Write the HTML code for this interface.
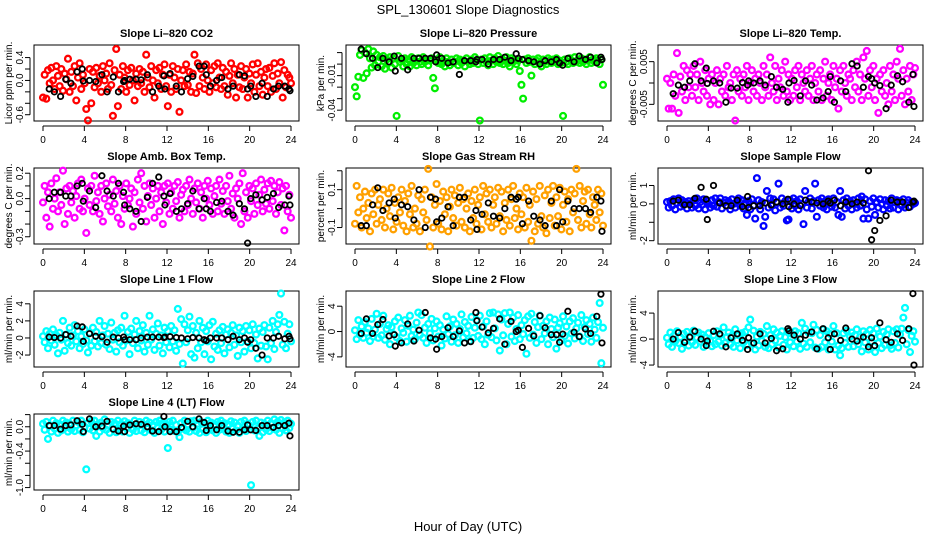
<!DOCTYPE html>
<html><head><meta charset="utf-8"><style>
html,body{margin:0;padding:0;background:#fff;}
svg{display:block;font-family:"Liberation Sans",Arial,sans-serif;}
</style></head><body>
<svg id="chart" width="936" height="540" viewBox="0 0 936 540" xmlns="http://www.w3.org/2000/svg">
<rect x="0" y="0" width="936" height="540" fill="#fff"/>
<text x="468" y="14" font-size="13" text-anchor="middle">SPL_130601  Slope Diagnostics</text>
<text x="468" y="531" font-size="13" text-anchor="middle">Hour of Day (UTC)</text>
</svg>
<script>
const blackHours=[0.6,1.1,1.7,2.2,2.7,3.3,3.8,3.9,4.5,5.1,5.7,6.2,6.8,7.3,7.8,7.9,8.4,9.0,9.5,10.1,10.6,11.2,11.7,11.8,12.3,12.9,13.4,14.0,14.5,15.1,15.6,15.8,16.2,16.8,17.3,17.9,18.4,19.0,19.5,19.8,20.1,20.6,21.2,21.7,22.3,22.8,23.4,23.8,23.9];
const xTicks=[0,4,8,12,16,20,24];

const co2Vals=[-.3,.1,-.32,.18,-.05,.22,.0,-.15,.25,.08,-.1,.2,-.18,.12,.02,.38,-.2,.15,-.1,.25,-.35,.05,.3,-.15,.1,-.05,-.5,-.7,.2,-.4,.15,-.12,.22,-.05,.08,-.2,.25,.0,.12,-.15,.3,-.08,-.62,.18,.55,-.45,.1,-.15,.25,.05,-.2,.18,-.08,.22,.0,-.35,.12,-.1,.2,-.05,.15,-.2,.45,.05,-.12,.25,.0,-.3,.18,-.05,.22,-.15,.1,.28,-.1,-.45,.1,-.2,.25,.05,-.15,.2,-.55,.0,.18,-.1,.28,-.08,.15,-.2,.12,.45,-.22,.3,-.1,.2,.05,-.15,.28,.0,-.2,.18,-.05,.25,-.12,.3,.05,-.15,.22,-.1,.15,-.25,.08,.3,-.05,.2,-.3,.1,-.12,.25,-.15,.05,.2,-.3,.12,-.05,.28,-.2,.1,.3,-.1,.15,-.25,.05,.2,-.1,.22,-.2,.08,.3,-.15,.12,-.05,.32,-.3,.18,-.12,.1,.05,-.05];
const co2Black=[-.15,-.2,-.28,.02,-.05,.15,.2,-.01,.0,-.02,.1,-.2,.06,-.2,-.02,.0,.02,.02,.01,.1,-.2,-.1,.08,-.15,.12,-.1,-.2,.03,.07,.25,.25,.1,-.1,.0,.05,-.15,-.1,.1,.08,-.15,-.1,-.28,-.05,-.28,-.15,-.1,-.1,-.15,-.18];

const presVals=[-.02,-.028,-.011,.008,.012,-.012,.01,-.008,.013,.005,-.003,.011,-.001,.008,.002,.006,-.002,.007,-.004,.004,.001,.006,-.003,.005,.0,-.045,.007,.002,.004,-.002,.005,.0,.004,-.002,.006,.001,.003,-.001,.005,.002,.0,.006,.002,.004,-.001,.003,.005,-.012,-.021,.004,.001,.006,.0,.003,-.002,.005,.002,-.001,.004,.001,.002,.005,-.001,.004,.001,.003,-.002,.005,.002,.0,.004,.001,.006,.003,.0,-.049,.004,.001,.005,.002,-.001,.006,.003,.0,.005,.002,.007,.001,.004,.0,.003,.006,.001,-.002,.005,.002,.004,.0,.003,-.006,-.018,-.03,.004,.001,.005,.002,-.01,.004,.0,.003,.005,.001,-.002,.004,.002,.0,.005,.003,.001,.004,.002,.005,.0,.003,.001,-.045,.004,.002,.0,.005,.003,.001,.006,.002,.004,.001,.005,.002,.004,.0,.003,.006,.001,.004,.002,.005,.003,.0,.004,-.018];
const presBlack=[.013,.009,.005,-.003,.005,.002,.007,-.006,.005,-.005,.005,.005,.005,.005,.002,.008,.005,.001,.002,-.009,.003,.003,.002,.004,.004,.0,.004,.004,.006,.003,.009,.005,.004,.003,.002,.0,.003,.002,.004,.001,-.001,.005,.002,.007,.004,.006,.001,.006,.004];

const tempVals=[.001,-.006,.0,-.006,.002,-.003,.007,-.007,.0015,-.002,.004,-.004,.003,-.001,.002,-.003,.004,-.001,.002,-.004,.005,.0,-.002,.003,-.003,.001,-.005,.002,-.004,.0,.003,-.005,.001,-.002,.002,-.003,.004,-.001,.0,-.004,.002,-.0088,.003,-.002,.001,-.003,.002,-.001,.004,-.004,.0,.003,-.002,.001,-.003,.002,.0,-.004,.004,-.001,.002,-.003,.006,.0,-.002,.004,-.004,.001,-.001,.003,-.003,.005,-.002,.002,-.004,.001,-.003,.003,-.001,.004,-.004,.002,.0,-.002,.003,-.003,.001,.004,-.004,.0,.002,-.002,.003,-.004,.001,.005,-.003,.0,.002,-.004,.004,-.001,.001,-.006,.003,-.002,.004,.0,-.003,.002,.001,-.004,.003,-.001,.005,-.002,.002,-.004,.006,.001,.0075,-.003,.003,-.001,.004,-.004,.001,-.007,.002,-.002,.003,-.003,.0,-.005,.004,-.002,.002,-.004,.005,.001,.008,-.003,.003,-.005,.001,-.002,.004,-.004,.002,.0035];
const tempBlack=[-.0025,-.0005,-.001,.0005,.0045,.0005,.0035,-.0001,.0005,.0,-.0045,-.0012,-.0012,.0001,-.0005,.0005,.0,.0005,-.0005,.0015,-.001,-.0015,-.0045,.0,.0006,-.003,.0005,-.0005,-.004,-.0035,-.002,.0015,-.0045,.0005,-.002,.0045,.004,-.001,.0015,.001,.0,-.0006,-.006,-.0005,.0017,.0003,-.0045,.002,-.0055];

const ambVals=[-.03,.1,-.15,.05,-.22,.12,-.08,.0,.16,-.1,.05,-.05,.22,-.2,.08,-.12,.1,-.03,.06,-.15,.02,.12,-.08,.15,-.1,.0,-.27,.08,-.05,.1,-.1,.18,-.02,.05,-.12,.1,-.18,.0,.12,-.06,.03,-.1,.15,-.04,.06,-.15,.1,-.2,.02,-.08,.12,-.05,.0,.08,-.22,.05,-.12,.15,-.03,.2,-.08,.1,-.18,.02,.12,-.05,.08,-.15,.0,.1,-.1,.05,-.2,.1,-.03,.12,-.12,.05,-.08,.1,-.02,.13,-.15,.03,.07,-.1,.1,-.05,.15,.0,-.12,.08,-.03,.12,-.08,.05,-.15,.1,.0,.14,-.05,.08,-.12,.02,.1,-.1,.15,-.04,.06,-.12,.1,-.02,.18,-.08,.04,-.15,.08,.0,.12,-.2,.2,-.1,.05,-.15,.1,-.02,.08,-.12,.12,-.05,.03,.15,-.1,.07,-.04,.12,-.08,.14,-.02,.1,-.12,.05,.13,-.05,.08,-.25,.1,-.1,.03,-.15];
const ambBlack=[.0,.05,.05,.02,.02,.1,.12,-.02,.06,-.07,.18,.06,.02,.12,.05,-.05,-.08,-.1,-.18,.01,.12,.17,.02,-.05,.04,-.1,-.08,-.04,.06,-.08,.0,-.08,-.1,-.03,-.02,-.1,-.13,-.04,-.08,-.35,.0,.03,-.01,.01,.04,-.07,-.05,.02,-.05];

const rhVals=[-.08,.12,-.02,.06,-.1,.0,.09,-.05,.03,-.12,.08,-.03,.1,-.08,.02,.05,-.06,.1,-.1,.0,.08,-.04,.11,-.11,.03,-.07,.06,-.02,.1,-.09,.04,-.12,.08,-.03,.12,-.1,.0,-.08,.07,-.12,.05,-.02,.1,-.06,.21,-.2,.06,-.1,.02,.13,-.08,.04,-.11,.09,-.03,.06,-.12,.01,.1,-.05,.07,-.09,.03,.11,-.07,.05,-.1,.0,.08,-.12,.04,-.05,.1,-.08,.02,.06,-.11,.12,-.03,.08,-.07,.1,-.1,.02,.06,-.08,.11,-.04,.09,-.12,.03,-.06,.1,-.09,.05,.12,-.05,.0,-.11,.08,-.03,.06,-.1,.11,-.07,.02,-.17,.09,-.12,.05,-.08,.12,-.04,-.1,.07,-.13,.1,-.05,.03,.12,-.09,.06,-.04,.11,-.11,.02,.09,-.07,.05,-.12,.1,-.02,.08,.21,-.06,.12,-.1,.04,.09,-.08,.1,-.03,-.1,.06,.02,-.06,.1,-.02,.08,-.09];
const rhBlack=[-.09,-.09,.02,.11,-.01,.03,.05,-.05,.02,.01,-.06,.1,-.1,.06,.05,-.07,-.05,.01,-.09,.06,.06,-.06,-.01,-.11,-.03,.03,-.04,-.05,.0,.06,.05,.06,-.08,.04,-.04,-.06,-.09,.04,-.09,.1,-.07,.04,.0,.0,.0,-.02,.06,.04,-.12];

const flowVals=[.1,-.2,.15,-.1,.25,-.3,.05,.3,-.15,.2,-.05,.1,-.25,.15,.0,-.2,.2,-.1,.3,-.25,.1,-.05,.25,-.3,.15,.0,-.2,.2,-.1,.3,-.15,.1,.3,-.25,.05,.2,-.1,.15,-.3,.25,.0,-.2,.1,.3,-.1,.2,-.25,.05,-.6,.15,-.3,.25,-.1,-.8,1.4,.2,-.3,.1,-1.2,-.7,.7,-.2,.3,-.1,.25,-.35,.1,1.1,-.2,.3,-.1,.15,-.9,-.85,.2,-.25,.3,-.1,.15,-.3,.25,.0,-1.1,.7,-.2,.1,.3,-.25,.15,1.1,-.7,.2,-.1,.3,-.2,.15,-.3,.25,.05,-.15,.3,-.2,.1,-.6,.7,-.7,.2,-.25,.3,-.1,.15,-.3,.2,.0,-.2,.3,-.1,.4,-.8,.25,-.3,-.8,.15,-.15,.3,-.6,.1,-.2,.25,.0,-.3,.2,-.1,.15,-.25,.3,-.2,.1,.2,-.3,.15,-.1,.25,-.2,.05,.2,-.15,.1,.0,.05];
const flowBlack=[.15,.2,-.05,-.05,.3,.9,.25,-.85,1.0,.05,-.1,-.1,.2,-.15,.4,-.2,-.1,-.1,.05,-.05,.1,.0,.25,-.15,.0,-.1,.2,.1,.05,.0,.15,.05,.2,-.1,.1,.0,.1,.05,1.8,-1.95,-1.45,-.9,-.65,.2,.1,.1,-.2,.1,.15];

const l1Vals=[.2,-.5,.8,-1.2,.5,-.3,1,-.8,.3,-1.8,.6,-.2,2,-1.5,.4,-.6,1.2,-.9,.3,1.5,-.4,.8,-1.2,.2,-.7,1,-.3,-1.7,.6,-.9,1.2,-.4,.7,-1,2,-.6,.3,1.4,-.8,.5,-1.3,1.8,-.2,.6,-1.6,.9,-.5,1.2,-.9,2.6,-.3,.7,-1.9,1.1,-.6,.4,2,-1.2,.8,-.3,1.5,-1.6,.6,-.8,2.6,-.2,1,-1.4,.5,1.7,-.9,.3,-1.8,1.2,-.5,.8,-1.1,1.4,-.4,.9,-1.5,3.4,-.7,2.2,-3,1.6,-.5,.9,2.5,-1.9,1.4,-2.3,.6,-1.2,2,-.5,1.2,-1.9,.8,-.4,1.5,-2.5,1.9,-1,.5,-1.4,.9,-.6,1.3,-1.8,.4,1,-1.1,.6,1.5,-.8,.3,-2.1,1.2,-.5,.8,-1.6,1.4,-.4,.9,-1.2,1.6,-.6,.4,-2.4,1.1,-.9,.7,1.5,-1,-2.5,1.2,-.6,2,-1.3,.7,1.6,2.7,5.2,-.8,1.9,-1.2,.5,1.6,-.4];
const l1Black=[.1,.05,.0,.4,.2,1.4,1.3,-.4,.5,.2,.15,-.5,.1,.0,.1,-.2,-.2,-.2,.0,.1,.1,.1,.05,.1,.15,.05,.0,-.1,.05,.0,-.2,-.3,.0,.0,.0,-.2,.2,-.2,.0,-.5,-.2,-1.2,-2,.0,.0,.2,-.1,.2,-.1];

const l2Vals=[.2,-1.2,1.8,-.5,.8,-1,1.5,-.2,.5,-1.5,2,-.8,.3,2.8,-1,1.2,-.6,2.5,-1.3,.4,1,-2,.7,-.4,1.6,-.9,2.2,-1.5,.5,-.2,1.8,-1.6,.9,2.5,-.7,.3,-1.2,1.4,3,-.5,2.6,-1,.6,-1.8,1.2,-.3,2,-1.4,.5,1.6,-.8,1,-2.2,.3,-1.1,2.4,-.4,.8,-1.6,1.9,-.6,1.2,-1.8,.4,2.7,-.9,1.5,-.3,.9,-1.5,2.3,-1,.6,1.8,-.7,2.5,-1.2,.8,-2,1.6,-.5,2.9,-.9,3,.5,-1.4,2.7,-3,1.9,-.6,2.9,-2,1.2,3,-.8,2.2,-1.5,.4,2.6,-1.2,1,-.4,1.8,-3.5,2.4,-1,2.8,-.5,1.5,-1.8,.7,2.5,-1.2,.9,-.3,1.6,-2,2.2,.4,-.9,1.9,-2.7,.6,1.3,-1.4,2.4,-.7,.8,-1.9,1.6,-.3,2.1,-1.1,.5,1.4,-.8,2.6,-1.5,.7,1.8,-.4,1.2,-1.6,2.2,.3,-1,1.5,4.5,-5,.6];
const l2Black=[-.3,2,-.3,1.1,1.9,-.7,-.5,-2.3,-1.8,1.2,-1.5,.2,3,-1,-1.2,-2.8,-.8,.6,-.8,.1,-1.8,-1.6,3,1.7,.7,-.2,.5,2,-2,1.6,.0,.2,-2.5,.5,-.7,2.5,.6,-.5,-.5,-1.7,-.4,3.2,-.1,-.8,.4,-.3,2.4,5.9,-1.8];

const l3Vals=[.2,-.8,1,-1.2,.5,-.3,1.2,-.6,.3,-1.5,.8,-.2,1.1,-1,.4,-.5,1.3,-.9,.2,1,-.4,.7,-1.2,.3,-.7,.9,-.3,-1.1,.6,-.8,1.2,-.4,.6,-1,1.8,-.6,.3,1,-.8,.5,-1.2,1.5,-.2,.6,-1.4,.9,-.5,1.1,-.9,1.8,3,-.7,1.3,-1.6,.4,-1,1.1,-.3,.8,-1.2,2,-1.4,.6,-.8,1.5,-.2,1,-1.3,.5,1.2,-.9,.3,-1.6,1,-.5,.8,-1.1,1.2,-.4,.9,-1.5,2.5,-.7,1.6,-1.2,1,-.5,.9,2.2,-1.3,1.4,-1.5,.6,-1.2,1.5,-.5,1.2,-1.6,.8,-.4,2,-1.6,.9,-1,-2.5,-1.4,.9,-.6,1.3,-1.2,.4,1,-1.1,.6,1.5,-.8,.3,-1.9,1.2,-.5,.8,-1.6,1.4,-.4,.9,-2,1.6,-.6,.4,-1.4,1.1,-.9,.7,1.5,-1,-1.5,1.2,-.6,1.5,-1.3,.7,1.6,3.3,4.8,-.8,1.4,-2,.5,1.2,-.4];
const l3Black=[.0,1,-.5,.3,1.2,.0,-1,-.3,1.2,.8,-1.2,.2,.8,-.2,-1.6,.2,-.6,.8,-.6,.1,-1.8,-1.5,1.6,1.3,.6,.0,.6,1.1,-1.5,1.6,.2,-1.6,.8,-.2,1.7,.0,-.3,.3,-1.2,.2,-1,2.5,-.1,-.5,.8,-.2,1.6,7,-4];

const l4Vals=[.05,-.05,.08,-.2,.02,-.08,.1,-.03,.06,-.1,.04,-.06,.1,-.02,.07,-.08,.05,-.04,.1,-.07,.02,.08,-.05,.1,-.09,.0,-.7,.06,-.03,.09,-.06,.1,-.15,.04,-.08,.07,-.02,.12,-.05,.03,-.1,.08,-.03,.06,-.09,.1,-.04,.05,-.08,.09,-.02,.06,-.1,.04,-.05,.1,-.07,.02,.08,-.06,.05,-.09,.1,-.03,.07,-.06,.03,-.1,.08,-.02,.1,-.05,.06,-.08,.04,-.35,.08,-.05,.1,-.07,.03,-.09,-.17,.06,-.03,.1,-.06,.04,-.08,.09,-.02,.1,-.07,.05,-.1,.08,-.04,.06,-.09,.1,-.03,.07,-.06,.04,-.1,.08,-.05,.1,-.02,.06,-.08,.04,-.1,.09,-.03,.07,-.06,.02,-.1,.08,-.04,.1,-.07,.05,.02,-.96,.08,-.06,.1,-.03,-.15,.07,-.09,.05,-.04,.1,-.07,.06,-.02,.12,-.05,.08,-.1,.11,-.03,.07,-.06,.1,-.02,.05];
const l4Black=[.02,.02,-.04,.02,.03,.1,.04,-.08,.13,.0,.01,.09,-.04,-.07,.01,-.08,.03,.05,.04,.0,-.07,-.08,.17,.0,-.08,-.08,-.01,.09,.0,.13,.07,-.06,.02,-.05,.02,-.07,-.09,-.09,-.05,.03,-.05,-.06,.02,.02,-.01,.02,.02,.06,-.15];

const panels=[
 {name:'co2',title:'Slope Li\u2013820 CO2',ylab:'Licor ppm per min.',col:0,row:0,dom:[-0.71,0.62],ticks:[-0.6,-0.4,-0.2,0,0.2,0.4],labels:[0.4,0,-0.6],lf:1,color:'#ff0000',vals:co2Vals,blk:co2Black},
 {name:'pressure',title:'Slope Li\u2013820 Pressure',ylab:'kPa per min.',col:1,row:0,dom:[-0.0494,0.0166],ticks:[-0.04,-0.03,-0.02,-0.01,0,0.01],labels:[-0.01,-0.04],lf:2,color:'#00ee00',vals:presVals,blk:presBlack},
 {name:'temp',title:'Slope Li\u2013820 Temp.',ylab:'degrees C per min.',col:2,row:0,dom:[-0.0089,0.0089],ticks:[-0.005,0,0.005],labels:[0.005,-0.005],lf:3,color:'#ff00ff',vals:tempVals,blk:tempBlack},
 {name:'amb-box-temp',title:'Slope Amb. Box Temp.',ylab:'degrees C per min.',col:0,row:1,dom:[-0.357,0.241],ticks:[-0.3,-0.2,-0.1,0,0.1,0.2],labels:[0.2,0,-0.3],lf:1,color:'#ff00ff',vals:ambVals,blk:ambBlack},
 {name:'gas-stream-rh',title:'Slope Gas Stream RH',ylab:'percent per min.',col:1,row:1,dom:[-0.187,0.2146],ticks:[-0.1,0,0.1,0.2],labels:[0.1,-0.1],lf:1,color:'#ffa000',vals:rhVals,blk:rhBlack},
 {name:'sample-flow',title:'Slope Sample Flow',ylab:'ml/min per min.',col:2,row:1,dom:[-2.18,1.95],ticks:[-2,-1,0,1],labels:[1,0,-2],lf:0,color:'#0000ff',vals:flowVals,blk:flowBlack},
 {name:'line1-flow',title:'Slope Line 1 Flow',ylab:'ml/min per min.',col:0,row:2,dom:[-3.4,5.5],ticks:[-2,0,2,4],labels:[4,2,0,-2],lf:0,color:'#00ffff',vals:l1Vals,blk:l1Black},
 {name:'line2-flow',title:'Slope Line 2 Flow',ylab:'ml/min per min.',col:1,row:2,dom:[-5.6,6.4],ticks:[-4,0,4],labels:[4,0,-4],lf:0,color:'#00ffff',vals:l2Vals,blk:l2Black},
 {name:'line3-flow',title:'Slope Line 3 Flow',ylab:'ml/min per min.',col:2,row:2,dom:[-4.3,7.4],ticks:[-4,0,4],labels:[4,0,-4],lf:0,color:'#00ffff',vals:l3Vals,blk:l3Black},
 {name:'line4-flow',title:'Slope Line 4 (LT) Flow',ylab:'ml/min per min.',col:0,row:3,dom:[-1.04,0.21],ticks:[-1,-0.8,-0.6,-0.4,-0.2,0,0.2],labels:[0,-0.4,-1],lf:1,color:'#00ffff',vals:l4Vals,blk:l4Black}
];
const colLeft=[34,346,658], rowTop=[45,168,291,414], W=265, H=76;
const svg=document.getElementById('chart');
const NS='http://www.w3.org/2000/svg';
function mk(tag,attrs,parent){const e=document.createElementNS(NS,tag);for(const k in attrs)e.setAttribute(k,attrs[k]);(parent||svg).appendChild(e);return e;}
panels.forEach(p=>{
  const L=colLeft[p.col], T=rowTop[p.row], B=T+H;
  const g=mk('g',{});
  
  
  const xs=h=>L+9+h*248/24;
  const ys=v=>T+(p.dom[1]-v)/(p.dom[1]-p.dom[0])*H;
  const t=mk('text',{x:L+W/2,y:T-8,'font-size':11,'font-weight':'bold','text-anchor':'middle'},g);
  t.textContent=p.title;
  
  
  const yl=mk('text',{transform:`translate(${L-22},${T+H/2}) rotate(-90)`,'font-size':10,'text-anchor':'middle'},g);
  yl.textContent=p.ylab;
  
  
  const box=mk('rect',{x:L,y:T,width:W,height:H,fill:'none',stroke:'#000','stroke-width':1},g);
  
  
  mk('line',{x1:xs(0),x2:xs(24),y1:B+5,y2:B+5,stroke:'#000'},g);
  xTicks.forEach(h=>{
    mk('line',{x1:xs(h),x2:xs(h),y1:B+5,y2:B+10,stroke:'#000'},g);
    const tl=mk('text',{x:xs(h),y:B+22,'font-size':10,'text-anchor':'middle'},g);
    tl.textContent=h;
    
    
  });
  const yt=p.ticks;
  mk('line',{x1:L-4,x2:L-4,y1:ys(Math.min(...yt)),y2:ys(Math.max(...yt)),stroke:'#000'},g);
  yt.forEach(v=>mk('line',{x1:L-9,x2:L-4,y1:ys(v),y2:ys(v),stroke:'#000'},g));
  p.labels.forEach(v=>{
    const s=(v===0)?(p.lf?'0.'+'0'.repeat(p.lf):'0'):v.toFixed(p.lf);
    const tl=mk('text',{transform:`translate(${L-11},${ys(v)}) rotate(-90)`,'font-size':10,'text-anchor':'middle'},g);
    tl.textContent=s;
    
    
  });
  const n=p.vals.length;
  p.vals.forEach((v,i)=>{
    const c=mk('circle',{cx:xs(i*24/(n-1)),cy:ys(v),r:2.9,fill:'none',stroke:p.color,'stroke-width':2.3},g);
    
    
  });
  const m=Math.min(blackHours.length,p.blk.length);
  for(let i=0;i<m;i++){
    const c=mk('circle',{cx:xs(blackHours[i]),cy:ys(p.blk[i]),r:2.7,fill:'none',stroke:'#000','stroke-width':1.8},g);
    
    
  }
});
</script>
</body></html>
